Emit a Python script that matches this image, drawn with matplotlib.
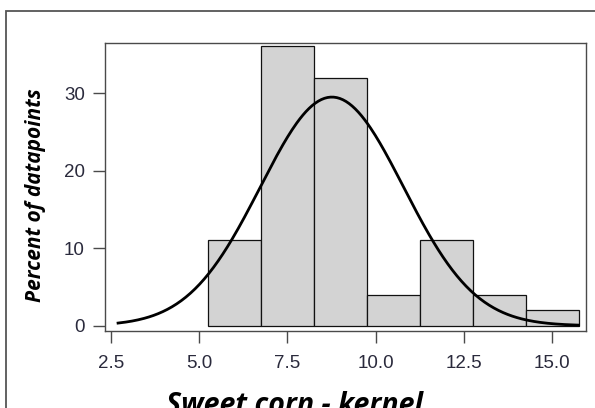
import numpy as np
import matplotlib
matplotlib.use("Agg")
import matplotlib.pyplot as plt
from matplotlib.patches import Rectangle

# histogram bins (kernel value) and percent of datapoints per bin
bin_edges = [5.25, 6.75, 8.25, 9.75, 11.25, 12.75, 14.25, 15.75]
percents = [11, 36, 32, 4, 11, 4, 2]

# fitted normal curve
fit_mean = 8.76
fit_sd = 2.03
curve_start, curve_end = 2.7, 15.75

x_ticks = [2.5, 5.0, 7.5, 10.0, 12.5, 15.0]
y_ticks = [0, 10, 20, 30]

tick_color = "#2a2a3c"
frame_color = "#4a4a4a"

fig = plt.figure(figsize=(5.95, 4.08), dpi=100)
ax = fig.add_axes([105 / 595, 77 / 408, 481 / 595, 288 / 408])

widths = np.diff(bin_edges)
ax.bar(bin_edges[:-1], percents, width=widths, align="edge",
       color="#d3d3d3", edgecolor="#111111", linewidth=0.9, zorder=2)

# normal density scaled to percent per bin
bw = widths.mean()
xs = np.linspace(curve_start, curve_end, 300)
ys = 100 * bw * np.exp(-0.5 * ((xs - fit_mean) / fit_sd) ** 2) / (fit_sd * np.sqrt(2 * np.pi))
ax.plot(xs, ys, color="black", linewidth=2.0, zorder=3)

ax.set_xlim(2.33, 15.96)
ax.set_ylim(-0.68, 36.45)
ax.set_xticks(x_ticks)
ax.set_xticklabels([f"{t:.1f}" for t in x_ticks])
ax.set_yticks(y_ticks)
ax.set_yticklabels([str(t) for t in y_ticks])

for s in ax.spines.values():
    s.set_color(frame_color)
    s.set_linewidth(1.0)

ax.tick_params(axis="both", direction="out", length=8.5, width=1.0,
               color=frame_color, labelcolor=tick_color, labelsize=13.5)
ax.tick_params(axis="x", pad=9)
ax.tick_params(axis="y", pad=6)
for lab in ax.get_xticklabels() + ax.get_yticklabels():
    lab.set_fontfamily("Liberation Sans")

fig.text(36 / 595, 1 - 195 / 408, "Percent of datapoints", rotation=90,
         ha="center", va="center", fontsize=15, fontweight="bold",
         fontstyle="italic", fontfamily="Open Sans", color="black")
fig.text(295 / 595, -5 / 408, "Sweet corn - kernel",
         ha="center", va="baseline", fontsize=20.5, fontweight="bold",
         fontstyle="italic", fontfamily="Open Sans", color="black")

# outer frame (only left and top edges fall inside the picture)
fig.add_artist(Rectangle((6 / 595, -0.1), 1.2, 1 - 11 / 408 + 0.1,
                         transform=fig.transFigure, fill=False,
                         edgecolor="#555555", linewidth=1.3))

fig.savefig("out.png", dpi=100)
